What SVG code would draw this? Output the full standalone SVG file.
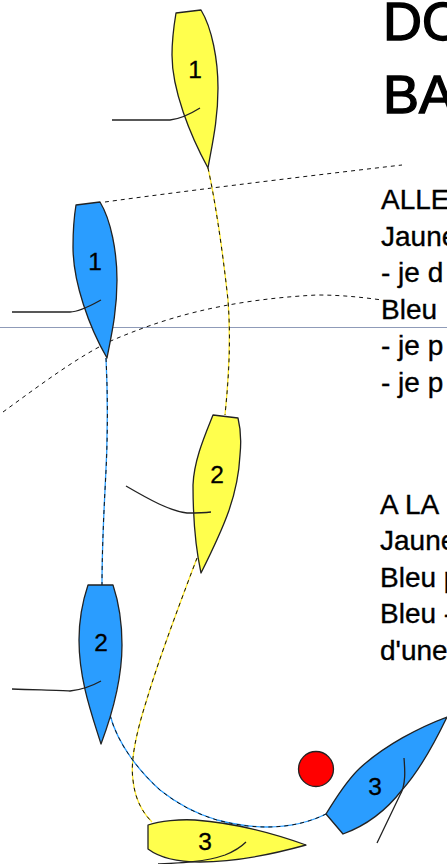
<svg xmlns="http://www.w3.org/2000/svg" width="447" height="864" viewBox="0 0 447 864">
<style>
.hull{stroke:#222;stroke-width:1.3;stroke-linejoin:round}
.y{fill:#ffff4d}
.b{fill:#2a9dff}
.tiller{fill:none;stroke:#222;stroke-width:1.3}
.num{font:24.5px "Liberation Sans",Arial,sans-serif;fill:#000;stroke:#000;stroke-width:.3;text-anchor:middle}
.t{font:28px "Liberation Sans",Arial,sans-serif;fill:#000;stroke:#000;stroke-width:.35}
.h{font:54px "Liberation Sans",Arial,sans-serif;fill:#000;stroke:#000;stroke-width:1.4}
.dash{fill:none;stroke:#111;stroke-width:1;stroke-dasharray:4 4}
.ty{fill:none;stroke:#ffe92e;stroke-width:1.3}
.tb{fill:none;stroke:#2a9dff;stroke-width:1.3}
</style>
<rect width="447" height="864" fill="#fff"/>
<g id="connectors">
<line x1="0" y1="327.5" x2="447" y2="327.5" stroke="#8f9bb8" stroke-width="1"/>
<path class="dash" d="M105 202 C170 193 290 178 402 165"/>
<path class="dash" d="M3 412 C40 385 80 355 113 340 C160 320 220 300 317 295 C340 295 360 297 382 300"/>
<path class="ty" d="M208 168 C214 195 222 245 228 300 C231 340 229 375 225 415"/>
<path class="dash" d="M208 168 C214 195 222 245 228 300 C231 340 229 375 225 415"/>
<path class="tb" d="M106 358 C108 400 108 440 105 490 C103 530 102 560 102 585"/>
<path class="dash" d="M106 358 C108 400 108 440 105 490 C103 530 102 560 102 585"/>
<path class="ty" d="M197 558 C185 590 160 655 147 699 C137 730 130 760 133 780 C135 800 143 813 152 822"/>
<path class="dash" d="M197 558 C185 590 160 655 147 699 C137 730 130 760 133 780 C135 800 143 813 152 822"/>
<path class="tb" d="M110 715 C118 745 140 772 160 790 C180 806 200 815 217 820 C240 826 255 827 267 827 C290 827 310 822 326 814"/>
<path class="dash" d="M110 715 C118 745 140 772 160 790 C180 806 200 815 217 820 C240 826 255 827 267 827 C290 827 310 822 326 814"/>
</g>
<g id="yellow-1">
<path class="hull y" d="M176 13 L201 10 C212 28 218 60 218 88 C218 120 212 145 208 168 C190 135 172 90 172 55 C172 40 174 25 176 13 Z"/>
<path class="tiller" d="M112 120 L170 120 C180 119 192 113 200 108"/>
<text class="num" x="195" y="78">1</text>
</g>
<g id="blue-1">
<path class="hull b" d="M76 205 L100 202 C111 220 117 252 117 280 C117 312 111 337 107 358 C89 327 73 282 73 247 C73 232 74 217 76 205 Z"/>
<path class="tiller" d="M12 312 L70 312 C80 312 92 305 101 300"/>
<text class="num" x="95" y="270">1</text>
</g>
<g id="yellow-2">
<path class="hull y" d="M213 415 L238 418 C241 430 241 445 240 455 C238 495 225 525 201 573 C196 550 193 520 193 485 C194 460 205 435 213 415 Z"/>
<path class="tiller" d="M126 486 C150 500 170 511 187 513 C195 513 203 513 211 512"/>
<text class="num" x="217" y="483">2</text>
</g>
<g id="blue-2">
<path class="hull b" d="M88 585 L113 585 C118 600 122 620 122 645 C122 680 110 720 101 744 C92 715 79 680 79 640 C79 620 83 600 88 585 Z"/>
<path class="tiller" d="M12 689 C40 690 60 690 70 691 C80 690 92 686 101 681"/>
<text class="num" x="101" y="651">2</text>
</g>
<g id="yellow-3">
<path class="hull y" d="M148 825 C160 821 180 819 195 820 C235 823 270 832 306 845 C270 855 230 862 200 862 C180 862 160 858 148 849 Z"/>
<path class="tiller" d="M158 864 C180 863 205 862 225 855 C235 851 241 847 246 842"/>
<text class="num" x="205" y="850">3</text>
</g>
<g id="blue-3">
<path class="hull b" d="M326 814 L343 834 C365 826 385 812 402 790 C420 770 435 742 447 717 C420 727 385 745 360 768 C345 782 335 800 326 814 Z"/>
<path class="tiller" d="M377 843 L400 795 C406 785 405 770 404 758"/>
<text class="num" x="375" y="795">3</text>
</g>
<g id="mark"><circle cx="316" cy="769" r="17.5" fill="#f00" stroke="#222" stroke-width="1.3"/></g>
<g id="text">
<text class="h" x="383" y="40">DO</text>
<text class="h" x="383" y="113">BA</text>
<text class="t" x="381" y="209">ALLE</text>
<text class="t" x="381" y="246">Jaune</text>
<text class="t" x="381" y="282">- je d</text>
<text class="t" x="381" y="319">Bleu</text>
<text class="t" x="381" y="355">- je p</text>
<text class="t" x="381" y="392">- je p</text>
<text class="t" x="380" y="514">A LA</text>
<text class="t" x="380" y="550">Jaune</text>
<text class="t" x="380" y="587">Bleu p</text>
<text class="t" x="380" y="623">Bleu -</text>
<text class="t" x="380" y="660">d'une</text>
</g>
</svg>
